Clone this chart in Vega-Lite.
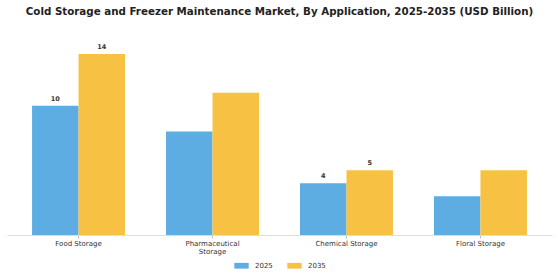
{
  "$schema": "https://vega.github.io/schema/vega-lite/v6.json",
  "width": 545,
  "height": 194,
  "autosize": {"type": "none"},
  "padding": {"left": 7, "top": 41, "right": 8, "bottom": 45},
  "background": "#ffffff",
  "title": {
    "text": "Cold Storage and Freezer Maintenance Market, By Application, 2025-2035 (USD Billion)",
    "font": "DejaVu Sans",
    "fontSize": 10.3,
    "fontWeight": "bold",
    "color": "#222222",
    "anchor": "middle",
    "offset": 24
  },
  "data": {
    "values": [
      {"application": "Food Storage", "year": "2025", "value": 10, "label": "10"},
      {"application": "Food Storage", "year": "2035", "value": 14, "label": "14"},
      {"application": "Pharmaceutical Storage", "year": "2025", "value": 8, "label": ""},
      {"application": "Pharmaceutical Storage", "year": "2035", "value": 11, "label": ""},
      {"application": "Chemical Storage", "year": "2025", "value": 4, "label": "4"},
      {"application": "Chemical Storage", "year": "2035", "value": 5, "label": "5"},
      {"application": "Floral Storage", "year": "2025", "value": 3.0, "label": ""},
      {"application": "Floral Storage", "year": "2035", "value": 5, "label": ""}
    ]
  },
  "encoding": {
    "x": {
      "field": "application",
      "type": "nominal",
      "sort": ["Food Storage", "Pharmaceutical Storage", "Chemical Storage", "Floral Storage"],
      "scale": {"paddingInner": 0.306, "paddingOuter": 0.187},
      "axis": {
        "title": null,
        "labelAngle": 0,
        "labelFont": "DejaVu Sans",
        "labelFontSize": 7,
        "labelColor": "#333333",
        "labelPadding": 1,
        "labelLineHeight": 8,
        "labelExpr": "datum.label == 'Pharmaceutical Storage' ? ['Pharmaceutical', 'Storage'] : datum.label",
        "domainColor": "#dddddd",
        "tickColor": "#bbbbbb",
        "tickSize": 3,
        "grid": false
      }
    },
    "xOffset": {"field": "year", "type": "nominal", "scale": {"paddingInner": 0}},
    "y": {
      "field": "value",
      "type": "quantitative",
      "scale": {"domain": [0, 15], "nice": false},
      "axis": null
    }
  },
  "layer": [
    {
      "mark": {"type": "bar"},
      "encoding": {
        "color": {
          "field": "year",
          "type": "nominal",
          "scale": {"domain": ["2025", "2035"], "range": ["#5DADE2", "#F7C244"]},
          "legend": {
            "title": null,
            "orient": "none",
            "direction": "horizontal",
            "legendX": 227,
            "legendY": 217,
            "symbolType": "M-1,-0.4H1V0.4H-1Z",
            "symbolSize": 207,
            "symbolStrokeWidth": 0,
            "labelFont": "DejaVu Sans",
            "labelFontSize": 7,
            "labelColor": "#333333",
            "labelOffset": 6,
            "columnPadding": 14
          }
        }
      }
    },
    {
      "mark": {"type": "text", "baseline": "bottom", "dy": -4, "font": "DejaVu Sans", "fontSize": 6.5, "fontWeight": "bold", "color": "#333333"},
      "encoding": {"text": {"field": "label"}}
    }
  ],
  "config": {"view": {"stroke": null}}
}
